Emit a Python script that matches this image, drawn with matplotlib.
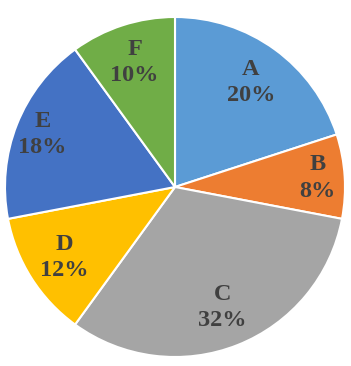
import numpy as np
import matplotlib.pyplot as plt

# datos del grafico
labels = ['A', 'B', 'C', 'D', 'E', 'F']
values = [20, 8, 32, 12, 18, 10]
colors = ['#5B9BD5', '#ED7D31', '#A5A5A5', '#FFC000', '#4472C4', '#70AD47']
label_dist = [0.76, 0.84, 0.76, 0.77, 0.84, 0.77]

fig = plt.figure(figsize=(3.51, 3.66), dpi=100)
ax = fig.add_axes([5 / 351, 9 / 366, 340 / 351, 340 / 366])

wedges, _ = ax.pie(values, colors=colors, startangle=90, counterclock=False,
                   radius=1.0, wedgeprops=dict(edgecolor='white', linewidth=1.5))

total = sum(values)
for w, lab, v, d in zip(wedges, labels, values, label_dist):
    ang = np.deg2rad((w.theta1 + w.theta2) / 2)
    ax.text(d * np.cos(ang), d * np.sin(ang), f'{lab}\n{round(100 * v / total)}%',
            ha='center', va='center', fontsize=17.5, fontweight='bold',
            family='Liberation Serif', color='#404040', linespacing=1.32)

ax.set_xlim(-1, 1)
ax.set_ylim(-1, 1)
ax.set_aspect('equal')
fig.savefig('out.png', dpi=100)
